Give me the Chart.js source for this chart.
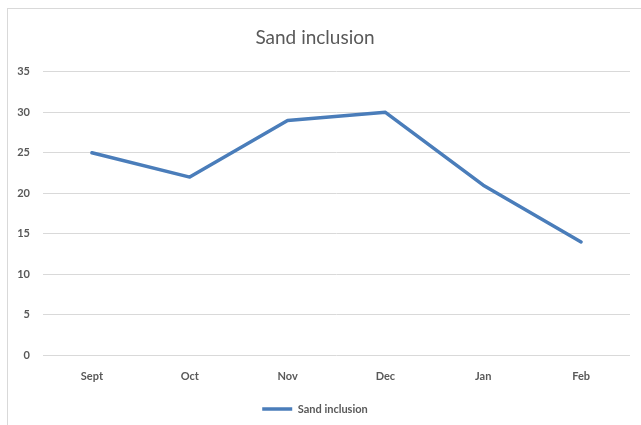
<!DOCTYPE html>
<html>
<head>
<meta charset="utf-8">
<script src="https://cdn.jsdelivr.net/npm/chart.js@4"></script>
<style>
  html, body { margin: 0; padding: 0; background: #fff; }
  #frame {
    position: absolute; left: 7px; top: 8px; width: 634px; height: 417px;
    border-left: 1px solid #d9d9d9; border-top: 1px solid #d9d9d9;
  }
  #wrap { position: absolute; left: 0; top: 0; width: 641px; height: 425px; }
</style>
</head>
<body>
<div id="frame"></div>
<div id="wrap"><canvas id="chart"></canvas></div>
<script>
const months = ['Sept', 'Oct', 'Nov', 'Dec', 'Jan', 'Feb'];
const sand_inclusion = [25, 22, 29, 30, 21, 14];
const y_min = 0;
const y_max = 35;
const y_step = 5;

const font_family = 'Lato, "Open Sans", sans-serif';
const text_grey = '#595959';
const line_blue = '#4a7dba';

var ctx = document.getElementById('chart').getContext('2d');
var chart = new Chart(ctx, {
    type: 'line',
    data: {
        labels: months,
        datasets: [{
            label: 'Sand inclusion',
            data: sand_inclusion,
            borderColor: line_blue,
            backgroundColor: line_blue,
            borderWidth: 3.5,
            borderCapStyle: 'round',
            borderJoinStyle: 'round',
            pointRadius: 0,
            pointHoverRadius: 0,
            tension: 0,
            pointStyle: 'line'
        }]
    },
    options: {
        responsive: true,
        maintainAspectRatio: false,
        animation: false,
        layout: { padding: { left: 0, right: 11, top: 0, bottom: 0.5 } },
        plugins: {
            title: {
                display: true,
                text: 'Sand inclusion',
                color: text_grey,
                font: { family: font_family, size: 19, weight: 'normal' },
                padding: { top: 26, bottom: 23 }
            },
            legend: {
                position: 'bottom',
                labels: {
                    usePointStyle: true,
                    pointStyleWidth: 30,
                    color: text_grey,
                    font: { family: font_family, size: 11, weight: 'bold' },
                    padding: 5
                }
            },
            tooltip: { enabled: false }
        },
        scales: {
            x: {
                offset: true,
                grid: { display: false, drawTicks: false },
                border: { display: false },
                ticks: {
                    color: text_grey,
                    font: { family: font_family, size: 11, weight: 'bold' },
                    padding: 15
                }
            },
            y: {
                min: y_min,
                max: y_max,
                grid: { color: '#d9d9d9', lineWidth: 1, drawTicks: false },
                border: { display: false },
                ticks: {
                    stepSize: y_step,
                    color: text_grey,
                    font: { family: font_family, size: 11, weight: 'bold' },
                    padding: 13
                },
                afterFit: (scale) => { scale.width = 43; }
            }
        }
    }
});
</script>
</body>
</html>
